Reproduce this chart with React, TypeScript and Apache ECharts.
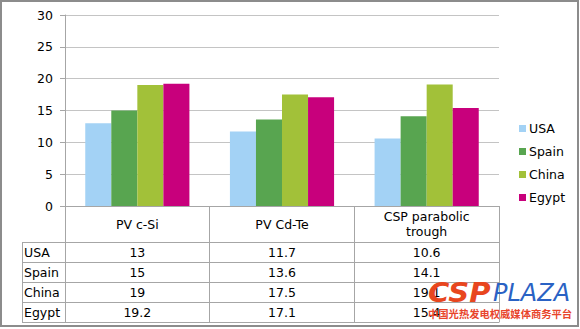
import React, { useEffect, useRef } from "react";
import * as echarts from "echarts";

const categories = ["PV c-Si", "PV Cd-Te", "CSP parabolic\ntrough"];
const seriesNames = ["USA", "Spain", "China", "Egypt"];
const usa = [13, 11.7, 10.6];
const spain = [15, 13.6, 14.1];
const china = [19, 17.5, 19.1];
const egypt = [19.2, 17.1, 15.4];
const seriesValues = [usa, spain, china, egypt];
const colors = ["#a3d2f5", "#58a550", "#a2c139", "#c8007c"];
const yTicks = [0, 5, 10, 15, 20, 25, 30];

const FONT = "DejaVu Sans";
const GRID_LEFT = 65;
const GRID_RIGHT_X = 499;
const GRID_TOP = 15;
const AXIS_Y = 206;
const HEADER_H = 36;
const ROW_H = 20;
const TABLE_LEFT = 22;
const LINE = "#a6a6a6";

export default function App() {
  const ref = useRef<HTMLDivElement>(null);
  useEffect(() => {
    if (!ref.current) return;
    const chart = echarts.init(ref.current, null, { renderer: "svg" });
    const rowTops = seriesNames.map((_, i) => AXIS_Y + HEADER_H + i * ROW_H);
    const tableBottom = AXIS_Y + HEADER_H + seriesNames.length * ROW_H;

    const tableAxes = seriesValues.map((vals, i) => ({
      type: "category",
      gridIndex: 0,
      position: "bottom",
      offset: rowTops[i] - AXIS_Y,
      data: vals.map((v) => String(v)),
      axisLine: { show: true, lineStyle: { color: LINE, width: 1 } },
      axisTick: { show: true, length: ROW_H, interval: 0, lineStyle: { color: LINE } },
      axisLabel: {
        show: true,
        interval: 0,
        margin: ROW_H / 2,
        verticalAlign: "middle",
        fontFamily: FONT,
        fontSize: 12.5,
        color: "#000",
      },
      splitLine: { show: false },
    }));

    const graphics: any[] = [];
    // outer frame
    graphics.push({
      type: "rect",
      shape: { x: 1, y: 1, width: 577, height: 325 },
      style: { fill: "none", stroke: "#8c8c8c", lineWidth: 2 },
      silent: true,
    });
    // left column of table
    graphics.push({
      type: "line",
      shape: { x1: TABLE_LEFT + 0.5, y1: rowTops[0], x2: TABLE_LEFT + 0.5, y2: tableBottom },
      style: { stroke: LINE, lineWidth: 1 },
    });
    [...rowTops, tableBottom].forEach((y) => {
      graphics.push({
        type: "line",
        shape: { x1: TABLE_LEFT, y1: y + 0.5, x2: GRID_LEFT, y2: y + 0.5 },
        style: { stroke: LINE, lineWidth: 1 },
      });
    });
    seriesNames.forEach((name, i) => {
      graphics.push({
        type: "text",
        x: TABLE_LEFT + 2,
        y: rowTops[i] + ROW_H / 2,
        style: {
          text: name,
          fontFamily: FONT,
          fontSize: 12.5,
          fill: "#000",
          verticalAlign: "middle",
          align: "left",
        },
      });
    });
    // watermark
    graphics.push({
      type: "text",
      x: 428,
      y: 293,
      scaleX: 1.12,
      style: {
        text: "CSP",
        font: `italic bold 26px "${FONT}"`,
        fill: "#e8461e",
        verticalAlign: "middle",
      },
      z: 100,
    });
    graphics.push({
      type: "text",
      x: 493,
      y: 293,
      style: {
        text: "PLAZA",
        font: `italic 24px "${FONT}"`,
        fill: "#2a62c4",
        verticalAlign: "middle",
      },
      z: 100,
    });
    graphics.push({
      type: "text",
      x: 428,
      y: 313,
      style: {
        text: "中国光热发电权威媒体商务平台",
        font: `bold 10.3px "Noto Sans CJK SC"`,
        fill: "#e8452c",
        verticalAlign: "middle",
      },
      z: 100,
    });

    chart.setOption({
      animation: false,
      backgroundColor: "#fff",
      color: colors,
      grid: {
        left: GRID_LEFT,
        right: 580 - GRID_RIGHT_X,
        top: GRID_TOP,
        bottom: 329 - AXIS_Y,
        containLabel: false,
      },
      legend: {
        orient: "vertical",
        left: 519,
        top: 121,
        padding: 0,
        itemWidth: 7,
        itemHeight: 7,
        itemGap: 8,
        icon: "rect",
        data: seriesNames,
        textStyle: { fontFamily: FONT, fontSize: 12.5, color: "#000", lineHeight: 15, padding: [0, 0, 0, -2] },
      },
      xAxis: [
        {
          type: "category",
          data: categories,
          position: "bottom",
          axisLine: { show: true, lineStyle: { color: LINE, width: 1 } },
          axisTick: { show: true, length: HEADER_H, interval: 0, lineStyle: { color: LINE } },
          axisLabel: {
            interval: 0,
            margin: HEADER_H / 2,
            verticalAlign: "middle",
            lineHeight: 15,
            fontFamily: FONT,
            fontSize: 12.5,
            color: "#000",
          },
        },
        ...tableAxes,
        {
          type: "category",
          position: "bottom",
          offset: tableBottom - AXIS_Y,
          data: categories.map(() => ""),
          axisLine: { show: true, lineStyle: { color: LINE, width: 1 } },
          axisTick: { show: false },
          axisLabel: { show: false },
        },
      ],
      yAxis: {
        type: "value",
        min: 0,
        max: 30,
        interval: 5,
        axisLine: { show: true, lineStyle: { color: LINE } },
        axisTick: { show: true, length: 5, lineStyle: { color: LINE } },
        axisLabel: {
          margin: 12,
          fontFamily: FONT,
          fontSize: 12.5,
          color: "#000",
          formatter: (v: number) => (yTicks.includes(v) ? String(v) : ""),
        },
        splitLine: { show: true, lineStyle: { color: "#c4c4c4" } },
      },
      series: seriesNames.map((name, i) => ({
        name,
        type: "bar",
        xAxisIndex: 0,
        data: seriesValues[i],
        barGap: "0%",
        barCategoryGap: "28%",
        itemStyle: { color: colors[i] },
      })),
      graphic: graphics,
    });
    return () => chart.dispose();
  }, []);
  return (
    <div
      ref={ref}
      style={{ position: "fixed", left: 0, top: 0, width: 580, height: 329 }}
    />
  );
}
